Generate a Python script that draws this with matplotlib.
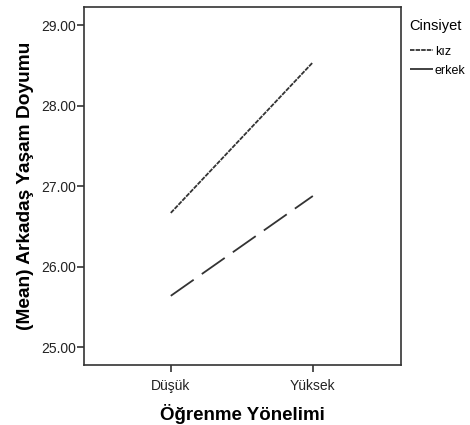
import matplotlib.pyplot as plt

plt.rcParams['font.family'] = ['Liberation Sans', 'DejaVu Sans']

categories = ['Düşük', 'Yüksek']
kiz = [26.67, 28.54]
erkek = [25.64, 26.88]
yticks = [25.0, 26.0, 27.0, 28.0, 29.0]

fig = plt.figure(figsize=(4.7, 4.25), dpi=100)
ax = fig.add_axes([0.179, 0.141, 0.674, 0.843])

x = list(range(len(categories)))
ax.plot(x, kiz, color='#333333', lw=1.3, linestyle=(0, (2.5, 0.6)), label='kız')
ax.plot(x, erkek, color='#333333', lw=1.3, linestyle=(0, (15.5, 5.5)), label='erkek')

ax.set_xlim(-0.61, 1.62)
ax.set_ylim(24.78, 29.23)
ax.set_xticks(x)
ax.set_xticklabels(categories, fontsize=10, color='#222222')
ax.set_yticks(yticks)
ax.set_yticklabels(['%.2f' % v for v in yticks], fontsize=10, color='#222222')
ax.tick_params(direction='out', length=5, width=1.2, color='#333333', pad=1)
ax.tick_params(axis='x', pad=5)
for s in ax.spines.values():
    s.set_linewidth(1.2)
    s.set_color('#333333')

ax.set_xlabel('Öğrenme Yönelimi', fontsize=13.5, fontweight='bold', labelpad=8)
ax.set_ylabel('(Mean) Arkadaş Yaşam Doyumu', fontsize=13.8, fontweight='bold', labelpad=5)

leg = ax.legend(loc='upper left', bbox_to_anchor=(1.0, 0.99), frameon=False,
                title='Cinsiyet', fontsize=9, title_fontsize=10.5,
                handlelength=1.9, handletextpad=0.1, labelspacing=0.55,
                borderaxespad=0.3)
leg._legend_box.align = 'left'
leg._legend_box.sep = 9

fig.savefig('out.png', dpi=100)
